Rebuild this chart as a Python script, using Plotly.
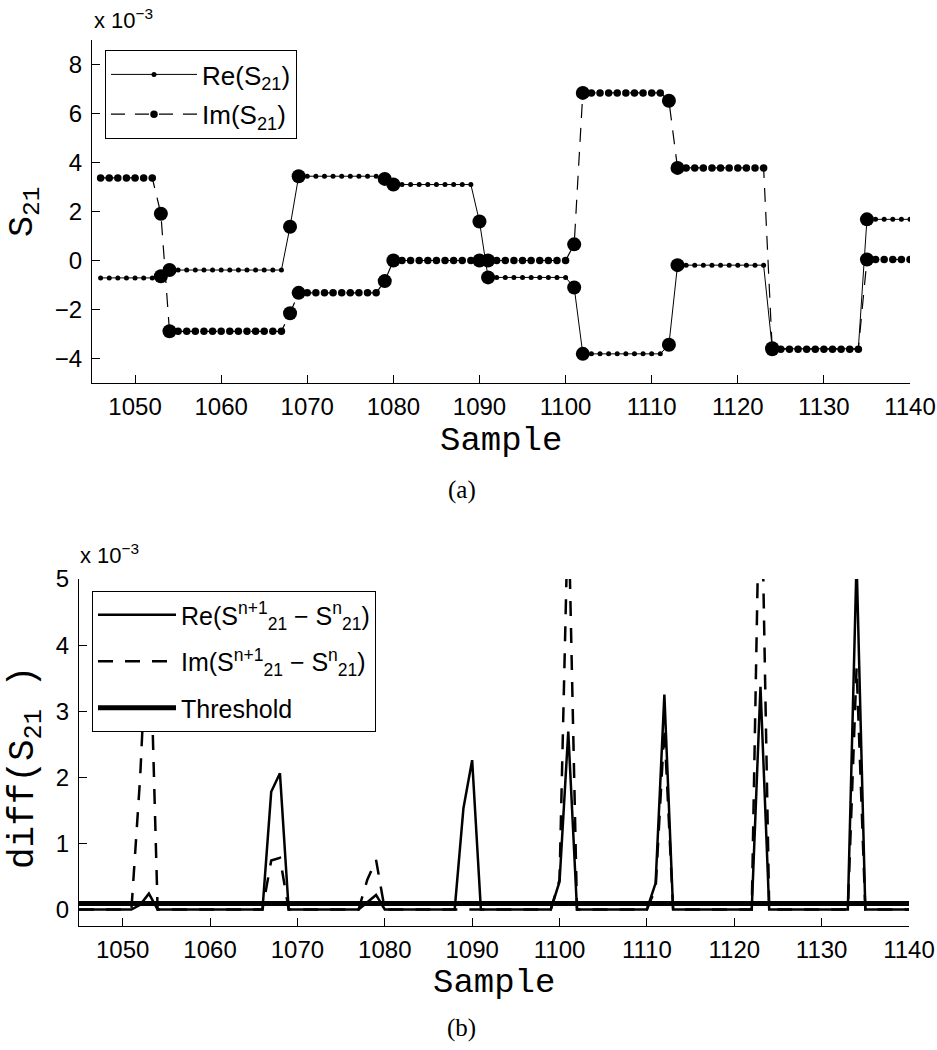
import plotly.graph_objects as go

# ---------------- data (values in units of 1e-3) ----------------
samples_a = [1046, 1047, 1048, 1049, 1050, 1051, 1052, 1053, 1054, 1055,
             1056, 1057, 1058, 1059, 1060, 1061, 1062, 1063, 1064, 1065,
             1066, 1067, 1068, 1069, 1070, 1071, 1072, 1073, 1074, 1075,
             1076, 1077, 1078, 1079, 1080, 1081, 1082, 1083, 1084, 1085,
             1086, 1087, 1088, 1089, 1090, 1091, 1092, 1093, 1094, 1095,
             1096, 1097, 1098, 1099, 1100, 1101, 1102, 1103, 1104, 1105,
             1106, 1107, 1108, 1109, 1110, 1111, 1112, 1113, 1114, 1115,
             1116, 1117, 1118, 1119, 1120, 1121, 1122, 1123, 1124, 1125,
             1126, 1127, 1128, 1129, 1130, 1131, 1132, 1133, 1134, 1135,
             1136, 1137, 1138, 1139, 1140]

re_s21 = [-0.71, -0.71, -0.71, -0.71, -0.71, -0.71, -0.71, -0.64, -0.39, -0.39,
          -0.39, -0.39, -0.39, -0.39, -0.39, -0.39, -0.39, -0.39, -0.39, -0.39,
          -0.39, -0.39, 1.38, 3.44, 3.44, 3.44, 3.44, 3.44, 3.44, 3.44,
          3.44, 3.44, 3.44, 3.33, 3.10, 3.10, 3.10, 3.10, 3.10, 3.10,
          3.10, 3.10, 3.10, 3.10, 1.59, -0.69, -0.69, -0.69, -0.69, -0.69,
          -0.69, -0.69, -0.69, -0.69, -0.69, -1.10, -3.81, -3.81, -3.81, -3.81,
          -3.81, -3.81, -3.81, -3.81, -3.81, -3.81, -3.44, -0.19, -0.19, -0.19,
          -0.19, -0.19, -0.19, -0.19, -0.19, -0.19, -0.19, -0.19, -3.58, -3.60,
          -3.60, -3.60, -3.60, -3.60, -3.60, -3.60, -3.60, -3.60, -3.60, 1.68,
          1.68, 1.68, 1.68, 1.68, 1.68]

im_s21 = [3.37, 3.37, 3.37, 3.37, 3.37, 3.37, 3.37, 1.91, -2.89, -2.89,
          -2.89, -2.89, -2.89, -2.89, -2.89, -2.89, -2.89, -2.89, -2.89, -2.89,
          -2.89, -2.89, -2.15, -1.32, -1.32, -1.32, -1.32, -1.32, -1.32, -1.32,
          -1.32, -1.32, -1.32, -0.84, 0.00, 0.00, 0.00, 0.00, 0.00, 0.00,
          0.00, 0.00, 0.00, 0.00, 0.00, 0.00, 0.00, 0.00, 0.00, 0.00,
          0.00, 0.00, 0.00, 0.00, 0.00, 0.66, 6.84, 6.84, 6.84, 6.84,
          6.84, 6.84, 6.84, 6.84, 6.84, 6.84, 6.52, 3.78, 3.78, 3.78,
          3.78, 3.78, 3.78, 3.78, 3.78, 3.78, 3.78, 3.78, -3.62, -3.62,
          -3.62, -3.62, -3.62, -3.62, -3.62, -3.62, -3.62, -3.62, -3.62, 0.04,
          0.04, 0.04, 0.04, 0.04, 0.04]

# samples flagged as change points (drawn with large circles)
change_samples = [1053, 1054, 1068, 1069, 1079, 1080, 1090, 1091,
                  1101, 1102, 1112, 1113, 1124, 1135]

samples_b = [1045, 1046, 1047, 1048, 1049, 1050, 1051, 1052, 1053, 1054,
             1055, 1056, 1057, 1058, 1059, 1060, 1061, 1062, 1063, 1064,
             1065, 1066, 1067, 1068, 1069, 1070, 1071, 1072, 1073, 1074,
             1075, 1076, 1077, 1078, 1079, 1080, 1081, 1082, 1083, 1084,
             1085, 1086, 1087, 1088, 1089, 1090, 1091, 1092, 1093, 1094,
             1095, 1096, 1097, 1098, 1099, 1100, 1101, 1102, 1103, 1104,
             1105, 1106, 1107, 1108, 1109, 1110, 1111, 1112, 1113, 1114,
             1115, 1116, 1117, 1118, 1119, 1120, 1121, 1122, 1123, 1124,
             1125, 1126, 1127, 1128, 1129, 1130, 1131, 1132, 1133, 1134,
             1135, 1136, 1137, 1138, 1139, 1140]

re_diff = [0, 0, 0, 0, 0, 0, 0, 0.07, 0.24, 0,
           0, 0, 0, 0, 0, 0, 0, 0, 0, 0,
           0, 0, 1.78, 2.06, 0, 0, 0, 0, 0, 0,
           0, 0, 0, 0.11, 0.22, 0, 0, 0, 0, 0,
           0, 0, 0, 0, 1.53, 2.26, 0, 0, 0, 0,
           0, 0, 0, 0, 0, 0.42, 2.69, 0, 0, 0,
           0, 0, 0, 0, 0, 0, 0.40, 3.25, 0, 0,
           0, 0, 0, 0, 0, 0, 0, 0, 3.37, 0,
           0, 0, 0, 0, 0, 0, 0, 0, 0, 5.28,
           0, 0, 0, 0, 0, 0]

im_diff = [0, 0, 0, 0, 0, 0, 0, 2.0, 4.8, 0,
           0, 0, 0, 0, 0, 0, 0, 0, 0, 0,
           0, 0, 0.74, 0.78, 0, 0, 0, 0, 0, 0,
           0, 0, 0, 0.45, 0.75, 0, 0, 0, 0, 0,
           0, 0, 0, 0, 0, 0, 0, 0, 0, 0,
           0, 0, 0, 0, 0, 0.45, 6.2, 0, 0, 0,
           0, 0, 0, 0, 0, 0, 0.32, 2.75, 0, 0,
           0, 0, 0, 0, 0, 0, 0, 0, 7.4, 0,
           0, 0, 0, 0, 0, 0, 0, 0, 0, 3.66,
           0, 0, 0, 0, 0, 0]

threshold = 0.09
x_range = [1045, 1140]
x_ticks = [1050, 1060, 1070, 1080, 1090, 1100, 1110, 1120, 1130, 1140]
ya_ticks = [-4, -2, 0, 2, 4, 6, 8]
yb_ticks = [0, 1, 2, 3, 4, 5]

# ---------------- figure ----------------
W, H = 937, 1050
SANS = "Liberation Sans, Arial, sans-serif"
MONO = "Liberation Mono, Courier New, monospace"
SERIF = "Liberation Serif, Times New Roman, serif"


def px(x):
    return x / W


def py(y):
    return 1 - y / H


idx = {s: i for i, s in enumerate(samples_a)}
chg_re = [re_s21[idx[s]] for s in change_samples]
chg_im = [im_s21[idx[s]] for s in change_samples]

fig = go.Figure()

# panel (a)
fig.add_trace(go.Scatter(x=samples_a, y=re_s21, mode="lines+markers", name="Re(S<sub>21</sub>)",
                         line=dict(color="black", width=1), marker=dict(color="black", size=5),
                         xaxis="x", yaxis="y", legend="legend", legendgroup="a1"))
fig.add_trace(go.Scatter(x=samples_a, y=im_s21, mode="lines+markers", name="Im(S<sub>21</sub>)",
                         line=dict(color="black", width=1.2, dash="14px,10px"),
                         marker=dict(color="black", size=7.5),
                         xaxis="x", yaxis="y", legend="legend", legendgroup="a2"))
fig.add_trace(go.Scatter(x=change_samples, y=chg_re, mode="markers", showlegend=False,
                         marker=dict(color="black", size=14), xaxis="x", yaxis="y"))
fig.add_trace(go.Scatter(x=change_samples, y=chg_im, mode="markers", showlegend=False,
                         marker=dict(color="black", size=14), xaxis="x", yaxis="y"))

# panel (b)
fig.add_trace(go.Scatter(x=samples_b, y=re_diff, mode="lines",
                         name="Re(S<sup>n+1</sup><sub>21</sub> − S<sup>n</sup><sub>21</sub>)",
                         line=dict(color="black", width=2.5), xaxis="x2", yaxis="y2",
                         legend="legend2", legendgroup="b1"))
fig.add_trace(go.Scatter(x=samples_b, y=im_diff, mode="lines",
                         name="Im(S<sup>n+1</sup><sub>21</sub> − S<sup>n</sup><sub>21</sub>)",
                         line=dict(color="black", width=2.5, dash="15px,12px"),
                         xaxis="x2", yaxis="y2", legend="legend2", legendgroup="b2"))
fig.add_trace(go.Scatter(x=x_range, y=[threshold, threshold], mode="lines", name="Threshold",
                         line=dict(color="black", width=5), xaxis="x2", yaxis="y2",
                         legend="legend2", legendgroup="b3"))

axis_common = dict(showline=True, linecolor="black", linewidth=1.2, ticks="inside", ticklen=8,
                   tickwidth=1.2, tickcolor="black", showgrid=False, zeroline=False, mirror=False,
                   automargin=False, tickfont=dict(family=SANS, size=24, color="black"))

fig.update_layout(
    template="none",
    width=W, height=H, margin=dict(l=0, r=0, t=0, b=0, pad=0, autoexpand=False),
    paper_bgcolor="white", plot_bgcolor="white",
    xaxis=dict(domain=[px(92), px(910)], range=x_range, tickvals=x_ticks, anchor="y",
               ticklabelstandoff=2, **axis_common),
    yaxis=dict(domain=[py(383), py(40)], range=[-5, 9], tickvals=ya_ticks, anchor="x",
               ticklabelstandoff=4, **axis_common),
    xaxis2=dict(domain=[px(79), px(909)], range=x_range, tickvals=x_ticks, anchor="y2",
                ticklabelstandoff=2, **axis_common),
    yaxis2=dict(domain=[py(926), py(579)], range=[-0.25, 5], tickvals=yb_ticks, anchor="x2",
                ticklabelstandoff=4, **axis_common),
    legend=dict(x=px(105), y=py(50), xanchor="left", yanchor="top", bordercolor="black", borderwidth=1,
                bgcolor="white", font=dict(family=SANS, size=26, color="black"), itemwidth=86,
                tracegroupgap=3),
    legend2=dict(x=px(92), y=py(591), xanchor="left", yanchor="top", bordercolor="black", borderwidth=1,
                 bgcolor="white", font=dict(family=SANS, size=25, color="black"), itemwidth=78,
                 tracegroupgap=11),
    showlegend=True,
)

annos = [
    dict(text="x 10<sup>−3</sup>", x=px(92), y=py(35), xanchor="left", yanchor="bottom",
         font=dict(family=SANS, size=22)),
    dict(text="x 10<sup>−3</sup>", x=px(78), y=py(570), xanchor="left", yanchor="bottom",
         font=dict(family=SANS, size=22)),
    dict(text="Sample", x=px(501), y=py(441), xanchor="center", yanchor="middle",
         font=dict(family=MONO, size=34)),
    dict(text="Sample", x=px(494), y=py(983), xanchor="center", yanchor="middle",
         font=dict(family=MONO, size=34)),
    dict(text="S<sub>21</sub>", x=px(24), y=py(212), xanchor="center", yanchor="middle", textangle=-90,
         font=dict(family=MONO, size=35)),
    dict(text="diff(S<sub>21</sub> )", x=px(26), y=py(768), xanchor="center", yanchor="middle",
         textangle=-90, font=dict(family=MONO, size=36)),
    dict(text="(a)", x=px(462), y=py(490), xanchor="center", yanchor="middle",
         font=dict(family=SERIF, size=25)),
    dict(text="(b)", x=px(461), y=py(1028), xanchor="center", yanchor="middle",
         font=dict(family=SERIF, size=25)),
]
for a in annos:
    a.update(xref="paper", yref="paper", showarrow=False)
    a["font"]["color"] = "black"
fig.update_layout(annotations=annos)

fig.write_html("out.html", config={"displayModeBar": False},
               post_script="document.body.style.margin='0';")
